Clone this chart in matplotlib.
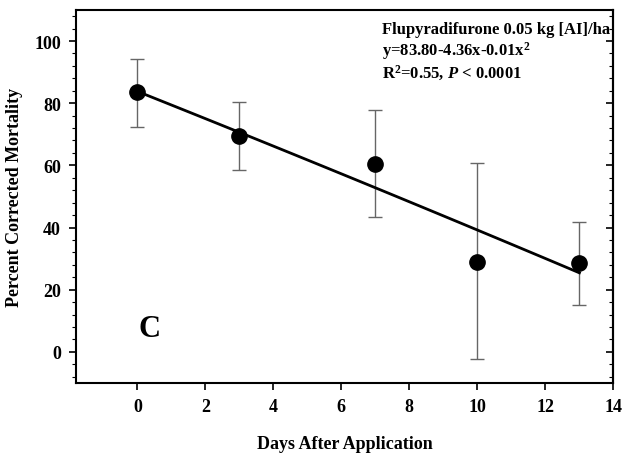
import numpy as np
import matplotlib.pyplot as plt
from matplotlib.ticker import MultipleLocator

plt.rcParams["font.family"] = "Liberation Serif"
plt.rcParams["font.weight"] = "bold"
plt.rcParams["mathtext.fontset"] = "custom"
plt.rcParams["mathtext.rm"] = "Liberation Serif:bold"
plt.rcParams["mathtext.bf"] = "Liberation Serif:bold"
plt.rcParams["mathtext.it"] = "Liberation Serif:bold:italic"

# === DATA ===
days = [0, 3, 7, 10, 13]
mortality = [83.5, 69.5, 60.5, 29.0, 28.5]
err_low = [72.5, 58.5, 43.5, -2.3, 15.0]
err_high = [94.3, 80.3, 77.8, 60.7, 41.7]

# quadratic fit coefficients
b0, b1, b2 = 83.80, -4.36, -0.01

fig = plt.figure(figsize=(6.24, 4.56), dpi=100)
ax = fig.add_axes([0.122, 0.158, 0.861, 0.818])

yerr = [np.array(mortality) - np.array(err_low), np.array(err_high) - np.array(mortality)]
ax.errorbar(days, mortality, yerr=yerr, fmt="none", ecolor="#666666",
            elinewidth=1, capsize=5, capthick=1)

xf = np.linspace(0, 13, 100)
ax.plot(xf, b0 + b1 * xf + b2 * xf ** 2, color="black", lw=2)
ax.plot(days, mortality, "o", color="black", ms=11)

ax.set_xlim(-1.8, 14)
ax.set_ylim(-10, 110)
ax.yaxis.set_minor_locator(MultipleLocator(4))
ax.set_xticks([0, 2, 4, 6, 8, 10, 12, 14])
ax.set_yticks([0, 20, 40, 60, 80, 100])
ax.tick_params(axis="both", which="major", direction="out", length=5, width=1.2,
               labelsize=13, pad=6)
ax.tick_params(axis="y", which="minor", direction="out", length=3, width=0.8)

# inward ticks on the right spine
ay = ax.secondary_yaxis("right")
ay.set_yticks([0, 20, 40, 60, 80, 100])
ay.yaxis.set_minor_locator(MultipleLocator(4))
ay.tick_params(which="major", direction="in", length=5, width=1.2, labelright=False)
ay.tick_params(which="minor", direction="in", length=3, width=0.8)
ay.spines["right"].set_linewidth(1.5)

for s in ax.spines.values():
    s.set_linewidth(1.5)

ax.set_xlabel("Days After Application", fontsize=13, fontweight="bold", labelpad=14)
ax.set_ylabel("Percent Corrected Mortality", fontsize=13, fontweight="bold", labelpad=8)

ax.text(7.2, 104, "Flupyradifurone 0.05 kg [AI]/ha", fontsize=12, fontweight="bold", va="center")
ax.text(7.2, 97, r"y=83.80-4.36x-0.01x$^{2}$", fontsize=12, fontweight="bold", va="center")
ax.text(7.2, 90, r"R$^{2}$=0.55, $P$ < 0.0001", fontsize=12, fontweight="bold", va="center")
ax.text(0.35, 7.6, "C", fontsize=22, fontweight="bold", ha="center", va="center")

fig.savefig("out.png", dpi=100)
